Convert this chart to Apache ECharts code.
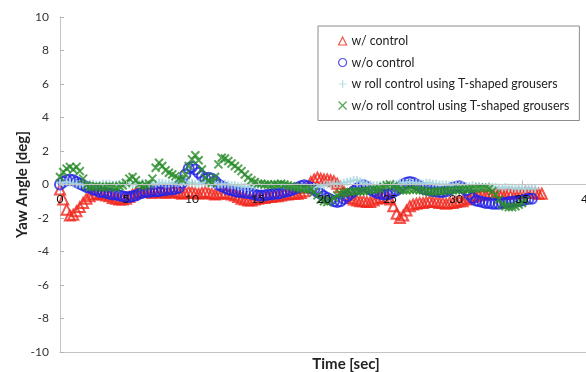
<!DOCTYPE html>
<html>
<head>
<meta charset="utf-8">
<script src="https://cdn.jsdelivr.net/npm/echarts@6/dist/echarts.min.js"></script>
<style>
  html, body { margin: 0; padding: 0; background: #fff; }
  #chart { width: 586px; height: 372px; }
</style>
</head>
<body>
<div id="chart"></div>
<script>
// sample spacing of the recorded traces (sec)
const STEP = 0.25;

const seriesNames = [
  "w/ control",
  "w/o control",
  "w roll control using T-shaped grousers",
  "w/o roll control using T-shaped grousers"
];

// yaw angle [deg], one value every STEP seconds from t = 0
const withControl = [
  -0.3, -0.9, -1.5, -1.85,  -1.8, -1.6, -1.35, -1.1,
  -0.85, -0.7, -0.6, -0.55,  -0.55, -0.6, -0.65, -0.7,
  -0.8, -0.85, -0.9, -0.9,  -0.85, -0.75, -0.6, -0.5,
  -0.45, -0.4, -0.4, -0.45,  -0.5, -0.45, -0.4, -0.45,
  -0.5, -0.45, -0.4, -0.45,  -0.5, -0.55, -0.5, -0.45,
  -0.45, -0.5, -0.55, -0.5,  -0.45, -0.5, -0.55, -0.6,
  -0.55, -0.5, -0.5, -0.55,  -0.6, -0.65, -0.75, -0.85,
  -0.9, -0.95, -0.95, -0.9,  -0.85, -0.8, -0.8, -0.75,
  -0.75, -0.7, -0.7, -0.65,  -0.6, -0.6, -0.55, -0.55,
  -0.55, -0.5, -0.4, -0.2,  0.15, 0.3, 0.4, 0.35,
  0.3, 0.3, 0.25, 0.2,  0.05, -0.15, -0.4, -0.65,
  -0.8, -0.9, -0.95, -1.0,  -1.0, -1.05, -1.05, -0.95,
  -0.85, -0.8, -0.75, -0.8,  -0.9, -1.3, -1.75, -2.0,
  -1.85, -1.55, -1.3, -1.2,  -1.15, -1.1, -1.1, -1.05,
  -1.0, -1.05, -1.05, -1.1,  -1.1, -1.15, -1.1, -1.1,
  -1.05, -1.0, -1.0, -0.9,  -0.85, -0.75, -0.7, -0.65,
  -0.6, -0.6, -0.55, -0.55,  -0.55, -0.5, -0.55, -0.55,
  -0.5, -0.5, -0.55, -0.5,  -0.5, -0.45, -0.5, -0.5,
  -0.5, -0.55, -0.55
];

const withoutControl = [
  0.0, 0.15, 0.25, 0.3,  0.25, 0.15, 0.05, -0.05,
  -0.15, -0.2, -0.3, -0.35,  -0.45, -0.45, -0.5, -0.55,
  -0.6, -0.6, -0.65, -0.7,  -0.75, -0.75, -0.7, -0.65,
  -0.55, -0.5, -0.45, -0.45,  -0.4, -0.4, -0.4, -0.35,
  -0.35, -0.3, -0.3, -0.25,  -0.2, 0.1, 0.6, 0.95,
  1.05, 0.9, 0.7, 0.5,  0.35, 0.4, 0.35, 0.2,
  0.0, -0.1, -0.2, -0.3,  -0.35, -0.4, -0.45, -0.45,
  -0.5, -0.5, -0.55, -0.6,  -0.65, -0.65, -0.65, -0.6,
  -0.6, -0.55, -0.55, -0.5,  -0.45, -0.4, -0.35, -0.25,
  -0.2, -0.1, -0.05, -0.1,  -0.2, -0.3, -0.45, -0.55,
  -0.7, -0.8, -0.9, -1.0,  -1.05, -1.0, -0.85, -0.7,
  -0.55, -0.4, -0.25, -0.1,  -0.05, -0.15, -0.3, -0.4,
  -0.5, -0.55, -0.6, -0.6,  -0.55, -0.45, -0.35, -0.2,
  0.0, 0.1, 0.15, 0.1,  0.0, -0.1, -0.25, -0.3,
  -0.35, -0.4, -0.4, -0.45,  -0.45, -0.4, -0.3, -0.2,
  -0.15, -0.1, -0.2, -0.35,  -0.6, -0.8, -0.95, -1.0,
  -1.05, -1.1, -1.1, -1.15,  -1.15, -1.15, -1.1, -1.1,
  -1.05, -1.05, -1.0, -1.0,  -0.95, -0.9, -0.85, -0.85
];

const rollControlT = [
  0.1, 0.1, 0.15, 0.1,  0.05, 0.05, 0.0, 0.0,
  0.0, 0.05, 0.05, 0.0,  0.0, 0.05, 0.05, 0.05,
  0.0, 0.0, 0.05, 0.05,  0.05, 0.0, 0.0, 0.05,
  0.05, 0.1, 0.05, 0.05,  0.05, 0.05, 0.1, 0.1,
  0.05, 0.05, 0.1, 0.1,  0.1, 0.1, 0.15, 0.1,
  0.1, 0.05, 0.05, 0.1,  0.1, 0.05, 0.05, 0.0,
  0.0, 0.0, 0.05, 0.0,  -0.05, -0.05, -0.1, -0.1,
  -0.15, -0.15, -0.1, -0.1,  -0.05, -0.05, 0.0, 0.0,
  0.0, 0.05, 0.0, 0.0,  -0.05, -0.05, -0.1, -0.1,
  -0.15, -0.2, -0.2, -0.2,  -0.2, -0.15, -0.15, -0.1,
  -0.05, 0.0, 0.0, 0.05,  0.05, 0.05, 0.1, 0.15,
  0.2, 0.25, 0.25, 0.2,  0.1, 0.05, 0.0, -0.05,
  -0.05, -0.05, 0.0, 0.0,  0.0, 0.05, 0.05, 0.1,
  0.1, 0.1, 0.15, 0.1,  0.1, 0.1, 0.05, 0.1,
  0.1, 0.05, 0.05, 0.0,  0.0, 0.0, -0.05, 0.0,
  0.0, -0.05, -0.05, -0.1,  -0.1, -0.05, -0.1, -0.1,
  -0.15, -0.15, -0.1, -0.15,  -0.15, -0.2, -0.2, -0.15,
  -0.2, -0.2, -0.25, -0.2,  -0.25, -0.25, -0.2, -0.25,
  -0.25
];

const noRollControlT = [
  0.45, 0.75, 0.95, 1.05,  0.9, 1.05, 0.8, 0.35,
  -0.05, -0.15, -0.15, -0.1,  -0.15, -0.2, -0.15, -0.1,
  -0.15, -0.2, -0.1, -0.05,  0.1, 0.35, 0.45, 0.25,
  0.0, -0.1, -0.05, 0.05,  0.35, 1.0, 1.3, 1.1,
  0.85, 0.7, 0.6, 0.5,  0.35, 0.3, 0.6, 1.1,
  1.5, 1.75, 1.45, 0.9,  0.4, 0.2, 0.1, 0.45,
  1.2, 1.6, 1.55, 1.4,  1.25, 1.1, 0.95, 0.8,
  0.6, 0.4, 0.25, 0.15,  0.05, 0.05, 0.0, 0.0,
  -0.05, 0.0, 0.0, 0.05,  0.0, -0.05, -0.1, -0.15,
  -0.2, -0.25, -0.25, -0.3,  -0.3, -0.45, -0.65, -0.9,
  -1.0, -1.05, -0.95, -0.8,  -0.65, -0.55, -0.5, -0.45,
  -0.45, -0.4, -0.4, -0.4,  -0.4, -0.35, -0.35, -0.3,
  -0.3, -0.25, -0.15, -0.05,  0.0, -0.1, -0.2, -0.3,
  -0.35, -0.35, -0.3, -0.3,  -0.3, -0.35, -0.35, -0.4,
  -0.45, -0.45, -0.4, -0.4,  -0.4, -0.35, -0.35, -0.35,
  -0.35, -0.3, -0.3, -0.3,  -0.3, -0.25, -0.25, -0.2,
  -0.2, -0.2, -0.25, -0.4,  -0.6, -0.9, -1.2, -1.3,
  -1.35, -1.35, -1.3, -1.2,  -1.1, -0.95
];

const xTicks = [0, 5, 10, 15, 20, 25, 30, 35, 40];
const yTicks = [-10, -8, -6, -4, -2, 0, 2, 4, 6, 8, 10];

const colors = ["#f0281e", "#2323e6", "#a6d6df", "#2a8c2a"];
const PLUS = "path://M5,0L5,10M0,5L10,5";
const CROSS = "path://M0,0L10,10M10,0L0,10";

function toPoints(values) {
  return values.map(function (v, i) { return [i * STEP, v]; });
}

const chart = echarts.init(document.getElementById("chart"));
const font = "Lato, 'Open Sans', sans-serif";
const axisGrey = "#c4c4c4";

// plot area: y=10 at 17px, y=-10 at 352px, so y=0 sits at 184.5px
const plotTop = 17, plotBottom = 20;
const zeroFromBottom = 372 - (plotTop + (372 - plotTop - plotBottom) / 2);

function scatter(name, values, color, symbol, size) {
  return {
    name: name,
    type: "scatter",
    z: 1,
    data: toPoints(values),
    symbol: symbol,
    symbolSize: size,
    itemStyle: { color: "rgba(0,0,0,0)", borderColor: color, borderWidth: 2 },
    emphasis: { disabled: true }
  };
}

chart.setOption({
  animation: false,
  textStyle: { fontFamily: font },
  grid: [
    { left: 60, right: -2, top: plotTop, bottom: plotBottom, outerBoundsMode: "none", containLabel: false },
    // upper half only: its bottom edge is the y=0 line, carries the time tick labels
    { left: 60, right: -2, top: plotTop, bottom: zeroFromBottom, outerBoundsMode: "none", containLabel: false }
  ],
  legend: {
    orient: "vertical",
    left: 318,
    top: 26,
    padding: [8, 10, 8, 20],
    itemGap: 7.5,
    itemWidth: 8,
    itemHeight: 8,
    borderColor: "#8c8c8c",
    borderWidth: 1,
    itemStyle: { borderWidth: 1.2 },
    textStyle: { fontFamily: font, fontSize: 12.4, color: "#222", lineHeight: 14 },
    data: seriesNames
  },
  xAxis: [
    {
      gridIndex: 0,
      type: "value",
      min: xTicks[0],
      max: xTicks[xTicks.length - 1],
      position: "bottom",
      axisLine: { onZero: false, lineStyle: { color: axisGrey, width: 1 } },
      axisTick: { show: false },
      axisLabel: { show: false },
      splitLine: { show: false },
      name: "Time [sec]",
      nameLocation: "middle",
      nameGap: 5,
      nameMoveOverlap: false,
      nameTextStyle: { fontSize: 15, fontWeight: "bold", color: "#222", fontFamily: font, padding: [0, 0, 0, 44] }
    },
    {
      gridIndex: 1,
      type: "value",
      min: xTicks[0],
      max: xTicks[xTicks.length - 1],
      interval: 5,
      position: "bottom",
      zlevel: 1,
      z: 10,
      axisLine: { onZero: false, lineStyle: { color: axisGrey, width: 1 } },
      axisTick: { inside: true, length: 4, customValues: xTicks, lineStyle: { color: "#b4b4b4" } },
      axisLabel: { margin: 9, fontSize: 12, color: "#111", fontFamily: font, customValues: xTicks, hideOverlap: false },
      splitLine: { show: false }
    }
  ],
  yAxis: [
    {
      gridIndex: 0,
      type: "value",
      min: yTicks[0],
      max: yTicks[yTicks.length - 1],
      interval: 2,
      axisLine: { show: true, onZero: false, lineStyle: { color: axisGrey, width: 1 } },
      axisTick: { show: true, inside: true, length: 4, lineStyle: { color: "#b4b4b4" } },
      axisLabel: { margin: 11, fontSize: 12, color: "#333", fontFamily: font },
      splitLine: { show: false },
      name: "Yaw Angle [deg]",
      nameLocation: "middle",
      nameGap: 30,
      nameMoveOverlap: false,
      nameTextStyle: { fontSize: 15, fontWeight: "bold", color: "#222", fontFamily: font }
    },
    { gridIndex: 1, type: "value", min: 0, max: 10, show: false }
  ],
  series: [
    scatter(seriesNames[0], withControl, colors[0], "triangle", 10),
    scatter(seriesNames[1], withoutControl, colors[1], "circle", 10),
    scatter(seriesNames[2], rollControlT, colors[2], PLUS, 8),
    scatter(seriesNames[3], noRollControlT, colors[3], CROSS, 8)
  ]
});
</script>
</body>
</html>
